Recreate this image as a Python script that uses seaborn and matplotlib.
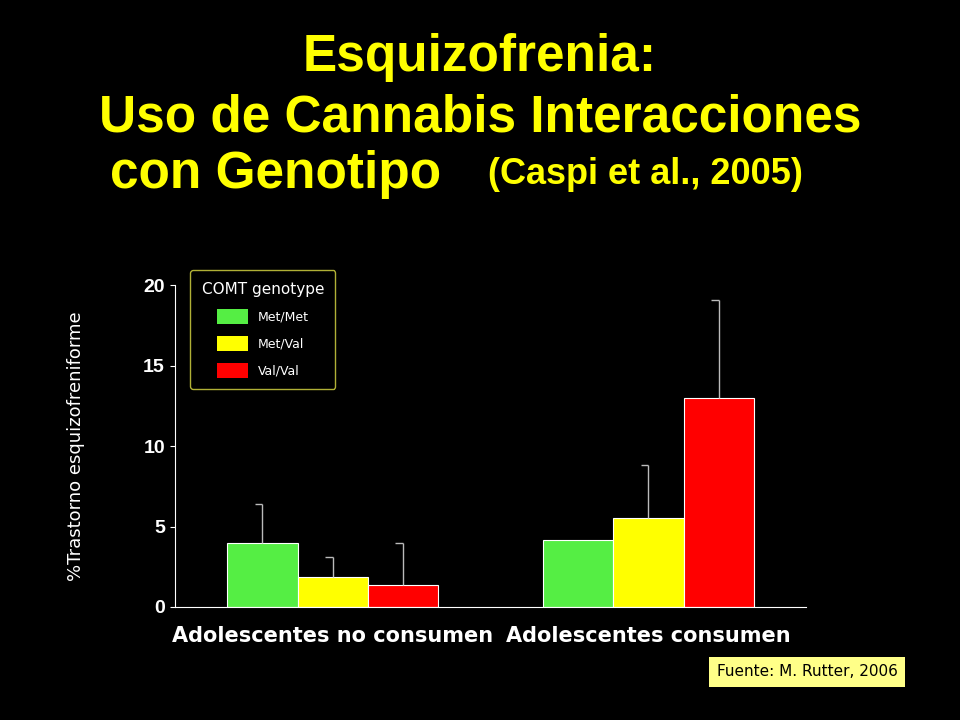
import matplotlib
matplotlib.use("Agg")
import matplotlib.pyplot as plt
import seaborn as sns
import pandas as pd
import numpy as np
from matplotlib.patches import Patch

categories = ["Adolescentes no consumen", "Adolescentes consumen"]
genotypes = ["Met/Met", "Met/Val", "Val/Val"]
values = {"Met/Met": [4.0, 4.15], "Met/Val": [1.85, 5.5], "Val/Val": [1.35, 13.0]}
err_top = {"Met/Met": [6.4, 4.15], "Met/Val": [3.1, 8.8], "Val/Val": [4.0, 19.1]}
colors = ["#55ee44", "#ffff00", "#ff0000"]

rows = []
for g in genotypes:
    for c, v in zip(categories, values[g]):
        rows.append({"cat": c, "geno": g, "val": v})
df = pd.DataFrame(rows)

fig = plt.figure(figsize=(9.6, 7.2), dpi=100, facecolor="black")
ax = fig.add_axes([0.182, 0.157, 0.658, 0.447])
ax.set_facecolor("black")
sns.barplot(data=df, x="cat", y="val", hue="geno", palette=colors, width=0.667,
            saturation=1, edgecolor="white", linewidth=0.8, legend=False, ax=ax)

w = 0.667 / 3
for i, g in enumerate(genotypes):
    for j in range(2):
        xc = j - 0.667 / 2 + w * (i + 0.5)
        top = err_top[g][j]
        if top > values[g][j]:
            ax.vlines(xc, values[g][j], top, color="#bbbbbb", lw=1)
            ax.hlines(top, xc - 0.025, xc, color="#bbbbbb", lw=1)

ax.set_xlim(-0.5, 1.5)
ax.set_ylim(0, 20)
ax.set_yticks([0, 5, 10, 15, 20])
for s in ["top", "right"]:
    ax.spines[s].set_visible(False)
for s in ["left", "bottom"]:
    ax.spines[s].set_color("white")
ax.tick_params(colors="white", labelsize=14, direction="out")
ax.tick_params(axis="x", length=0, pad=14)
for t in ax.get_yticklabels():
    t.set_fontweight("bold"); t.set_family("Liberation Sans")
for t in ax.get_xticklabels():
    t.set_fontweight("bold"); t.set_fontsize(15)
ax.set_xlabel("")
ax.set_ylabel("%Trastorno esquizofreniforme", color="white", fontsize=13, labelpad=42)

handles = [Patch(facecolor=c, edgecolor="none") for c in colors]
leg = ax.legend(handles, genotypes, title="COMT genotype", loc="upper left",
                bbox_to_anchor=(0.015, 1.065), frameon=True, facecolor="black",
                edgecolor="#dddd44", labelcolor="white", fontsize=9,
                handlelength=2.5, handleheight=1.4, borderpad=0.9, labelspacing=1.0)
leg.get_title().set_color("white"); leg.get_title().set_fontsize(11)
leg.get_frame().set_linewidth(1)

tk = dict(color="#ffff00", fontweight="bold", va="center", family="Liberation Sans")
fig.text(0.5, 0.92, "Esquizofrenia:", fontsize=37, ha="center", **tk)
fig.text(0.5, 0.836, "Uso de Cannabis Interacciones", fontsize=37, ha="center", **tk)
fig.text(0.115, 0.757, "con Genotipo", fontsize=37, ha="left", **tk)
fig.text(0.508, 0.757, "(Caspi et al., 2005)", fontsize=26, ha="left", **tk)

fig.text(0.935, 0.067, "Fuente: M. Rutter, 2006", color="black", fontsize=11, ha="right",
         va="center", bbox=dict(facecolor="#ffff88", edgecolor="none", boxstyle="square,pad=0.5"))

fig.savefig("out.png", dpi=100, facecolor="black")
